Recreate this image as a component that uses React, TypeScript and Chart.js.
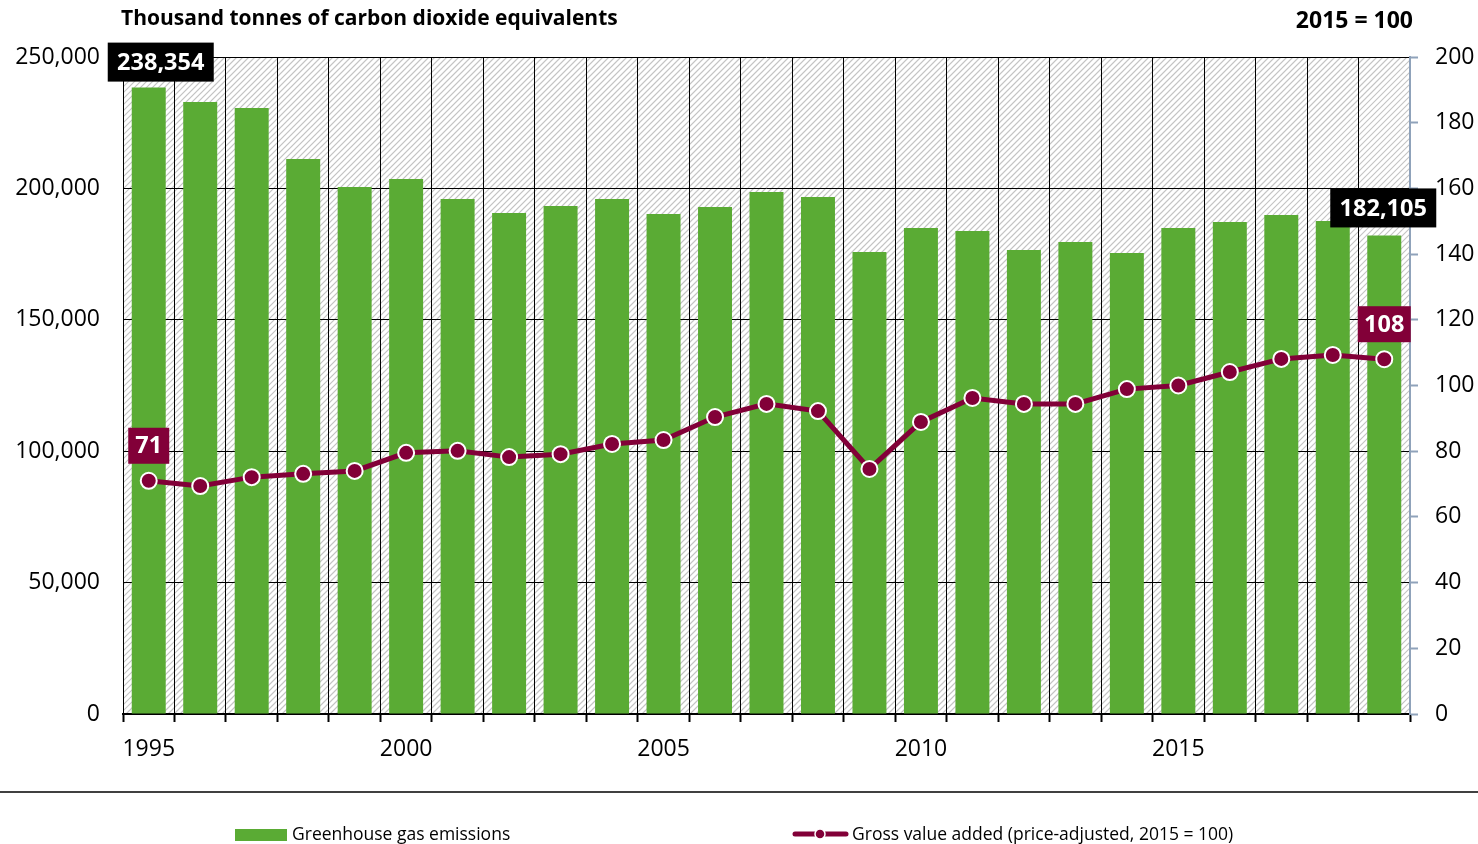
import React, { useEffect, useRef } from "react";
import { Chart, registerables } from "chart.js";

Chart.register(...registerables);

const years = [
  "1995", "1996", "1997", "1998", "1999", "2000", "2001", "2002", "2003", "2004",
  "2005", "2006", "2007", "2008", "2009", "2010", "2011", "2012", "2013", "2014",
  "2015", "2016", "2017", "2018", "2019",
];
const shownYears = ["1995", "2000", "2005", "2010", "2015"];
const emissions = [
  238354, 232900, 230600, 211200, 200500, 203600, 196000, 190600, 193300, 196000,
  190300, 192900, 198600, 196700, 175800, 184900, 183800, 176600, 179600, 175400,
  184900, 187200, 189900, 187600, 182105,
];
const grossValueAdded = [
  71, 69.4, 72.1, 73.1, 74.0, 79.5, 80.1, 78.2, 79.1, 82.2,
  83.4, 90.4, 94.4, 92.2, 74.6, 88.9, 96.2, 94.4, 94.4, 98.9,
  100, 104.1, 108.1, 109.3, 108,
];
const leftTitle = "Thousand tonnes of carbon dioxide equivalents";
const rightTitle = "2015 = 100";
const legendBar = "Greenhouse gas emissions";
const legendLine = "Gross value added (price-adjusted, 2015 = 100)";

const GREEN = "#5aab34";
const MAROON = "#820038";
const AXIS_BLUE = "#8fa2ba";
const FONT = "'Open Sans', sans-serif";

const fmt = (v: number) => Math.round(v).toLocaleString("en-US");

const hatchPlugin = {
  id: "hatch",
  beforeDraw(chart: any) {
    const { ctx, chartArea: a } = chart;
    ctx.save();
    ctx.fillStyle = "#ffffff";
    ctx.fillRect(a.left, a.top, a.right - a.left, a.bottom - a.top);
    ctx.beginPath();
    ctx.rect(a.left, a.top, a.right - a.left, a.bottom - a.top);
    ctx.clip();
    ctx.strokeStyle = "#c4c4c4";
    ctx.lineWidth = 1.2;
    const h = a.bottom - a.top;
    ctx.beginPath();
    for (let x = a.left - h; x < a.right + 10; x += 6) {
      ctx.moveTo(x, a.bottom);
      ctx.lineTo(x + h, a.top);
    }
    ctx.stroke();
    ctx.restore();
  },
};

function box(ctx: any, text: string, cx: number, top: number, w: number, h: number, bg: string) {
  ctx.fillStyle = bg;
  ctx.fillRect(cx - w / 2, top, w, h);
  ctx.fillStyle = "#ffffff";
  ctx.font = `bold 23.5px ${FONT}`;
  ctx.textAlign = "center";
  ctx.textBaseline = "middle";
  ctx.fillText(text, cx, top + h / 2 + 1);
}

const annotatePlugin = {
  id: "annotate",
  afterDraw(chart: any) {
    const { ctx } = chart;
    const bars = chart.getDatasetMeta(1).data;
    const pts = chart.getDatasetMeta(0).data;
    const n = years.length - 1;
    ctx.save();
    // bar value boxes
    box(ctx, fmt(emissions[0]), bars[0].x + 12, bars[0].y - 45, 106, 39, "#000000");
    box(ctx, fmt(emissions[n]), bars[n].x - 1, bars[n].y - 47, 106, 39, "#000000");
    // line value boxes
    box(ctx, String(grossValueAdded[0]), pts[0].x, pts[0].y - 53, 41, 36, MAROON);
    box(ctx, String(grossValueAdded[n]), pts[n].x, pts[n].y - 53, 53, 36, MAROON);

    // titles
    ctx.fillStyle = "#000000";
    ctx.textBaseline = "middle";
    ctx.textAlign = "left";
    ctx.font = `bold 21px ${FONT}`;
    ctx.fillText(leftTitle, 121, 19);
    ctx.textAlign = "right";
    ctx.font = `bold 23px ${FONT}`;
    ctx.fillText(rightTitle, 1413, 21);

    // separator line
    ctx.strokeStyle = "#000000";
    ctx.lineWidth = 1.5;
    ctx.beginPath();
    ctx.moveTo(0, 792);
    ctx.lineTo(1478, 792);
    ctx.stroke();

    // legend
    ctx.fillStyle = GREEN;
    ctx.fillRect(235, 829, 52, 12);
    ctx.fillStyle = "#000000";
    ctx.font = `17.5px ${FONT}`;
    ctx.textAlign = "left";
    ctx.textBaseline = "middle";
    ctx.fillText(legendBar, 292, 835);

    ctx.strokeStyle = MAROON;
    ctx.lineWidth = 5;
    ctx.lineCap = "round";
    ctx.beginPath();
    ctx.moveTo(795, 834);
    ctx.lineTo(846, 834);
    ctx.stroke();
    ctx.beginPath();
    ctx.fillStyle = MAROON;
    ctx.strokeStyle = "#ffffff";
    ctx.lineWidth = 1.5;
    ctx.arc(820, 834, 5, 0, Math.PI * 2);
    ctx.fill();
    ctx.stroke();
    ctx.fillStyle = "#000000";
    ctx.fillText(legendLine, 852, 835);
    ctx.restore();
  },
};

export default function App() {
  const ref = useRef<HTMLCanvasElement | null>(null);

  useEffect(() => {
    if (!ref.current) return;
    const chart = new Chart(ref.current, {
      type: "bar",
      data: {
        labels: years,
        datasets: [
          {
            type: "line",
            label: legendLine,
            data: grossValueAdded,
            yAxisID: "yRight",
            borderColor: MAROON,
            backgroundColor: MAROON,
            borderWidth: 5,
            pointRadius: 8,
            pointBorderWidth: 2,
            pointBorderColor: "#ffffff",
            pointBackgroundColor: MAROON,
            tension: 0,
            order: 0,
          } as any,
          {
            type: "bar",
            label: legendBar,
            data: emissions,
            yAxisID: "yLeft",
            backgroundColor: GREEN,
            borderWidth: 0,
            categoryPercentage: 1,
            barPercentage: 0.66,
            order: 1,
          },
        ],
      },
      options: {
        responsive: false,
        animation: false,
        events: [],
        layout: { padding: { left: 0, right: 0, top: 57, bottom: 70 } },
        plugins: { legend: { display: false }, tooltip: { enabled: false } },
        scales: {
          x: {
            type: "category",
            offset: true,
            grid: {
              display: true,
              offset: true,
              color: "#000000",
              lineWidth: 1,
              tickLength: 8,
              tickColor: "#000000",
              tickWidth: 2,
            },
            border: { display: true, color: "#000000", width: 2 },
            ticks: {
              autoSkip: false,
              maxRotation: 0,
              padding: 14,
              color: "#000000",
              font: { family: FONT, size: 23 },
              callback: (_v: any, i: number) => (shownYears.includes(years[i]) ? years[i] : ""),
            },
            afterFit: (s: any) => {
              s.height = 60;
            },
          },
          yLeft: {
            type: "linear",
            position: "left",
            min: 0,
            max: 250000,
            grid: { color: "#000000", lineWidth: 1, drawTicks: false },
            border: { display: false },
            ticks: {
              stepSize: 50000,
              padding: 23,
              color: "#000000",
              font: { family: FONT, size: 23 },
              callback: (v: any) => fmt(Number(v)),
            },
            afterFit: (s: any) => {
              s.width = 123;
            },
          },
          yRight: {
            type: "linear",
            position: "right",
            min: 0,
            max: 200,
            grid: {
              drawOnChartArea: false,
              color: AXIS_BLUE,
              tickLength: 8,
              tickWidth: 2,
            },
            border: { display: true, color: AXIS_BLUE, width: 2 },
            ticks: {
              stepSize: 20,
              padding: 17,
              color: "#000000",
              font: { family: FONT, size: 23 },
            },
            afterFit: (s: any) => {
              s.width = 68;
            },
          },
        },
      },
      plugins: [hatchPlugin, annotatePlugin],
    } as any);
    return () => chart.destroy();
  }, []);

  return (
    <div style={{ position: "absolute", left: 0, top: 0, width: 1478, height: 844, background: "#ffffff" }}>
      <canvas ref={ref} width={1478} height={844} style={{ display: "block" }} />
    </div>
  );
}
